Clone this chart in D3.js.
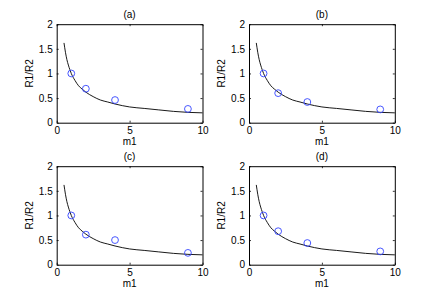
<!DOCTYPE html>
<html lang="en">
<head>
  <meta charset="UTF-8">
  <title>R1/R2 vs m1</title>
  <style>
    body { margin: 0; background: #fff; }
    svg { display: block; }
    text { font-family: "Liberation Sans", Arial, Helvetica, sans-serif; font-size: 10px; fill: #000; }
  </style>
</head>
<body>
  <script src="https://cdnjs.cloudflare.com/ajax/libs/d3/7.8.5/d3.min.js"></script>
  <svg></svg>
  <script>
    var width = 436, height = 300;

    // panel titles
    var titles = ['(a)', '(b)', '(c)', '(d)'];

    // measured points (same m1 for every panel)
    var m1 = [1, 2, 4, 9];
    var ratioA = [1, 0.69, 0.46, 0.28];
    var ratioB = [1, 0.6, 0.42, 0.27];
    var ratioC = [1, 0.61, 0.5, 0.24];
    var ratioD = [1, 0.68, 0.44, 0.27];
    var ratios = [ratioA, ratioB, ratioC, ratioD];

    // fitted curve
    var curveX = [0.5, 0.6, 0.7, 0.8, 0.9, 1, 1.25, 1.5, 1.75, 2, 2.5, 3, 3.5, 4, 5, 6, 7, 8, 9, 10];
    var curveY = [1.62, 1.43, 1.28, 1.17, 1.08, 1.0, 0.86, 0.75, 0.68, 0.62, 0.53, 0.46, 0.42, 0.38, 0.32, 0.29, 0.26, 0.23, 0.21, 0.2];

    // tick labels
    var xTicks = [0, 5, 10];
    var yTicks = [0, 0.5, 1, 1.5, 2];

    // panel boxes (left, top) in pixels
    var panelW = 145.8, panelH = 98.5;
    var lefts = [56.7, 249];
    var tops = [24.2, 166.2];

    var svg = d3.select('svg')
                .attr('width', width)
                .attr('height', height);

    var line = d3.line().curve(d3.curveMonotoneX);
    var fmt = d3.format('');

    titles.forEach(function(t, i) {
      var x0 = lefts[i % 2], y0 = tops[Math.floor(i / 2)];
      var g = svg.append('g').attr('transform', 'translate(' + x0 + ',' + y0 + ')');

      var xScale = d3.scaleLinear().domain([0, 10]).range([0, panelW]);
      var yScale = d3.scaleLinear().domain([0, 2]).range([panelH, 0]);

      // axes (MATLAB style: ticks inward, mirrored)
      var tl = 2;
      g.append('g').attr('transform', 'translate(0,' + panelH + ')')
        .call(d3.axisBottom(xScale).tickValues(xTicks).tickFormat(fmt).tickSizeInner(-tl).tickSizeOuter(0).tickPadding(4));
      g.append('g')
        .call(d3.axisLeft(yScale).tickValues(yTicks).tickFormat(fmt).tickSizeInner(-tl).tickSizeOuter(0).tickPadding(4));
      g.append('g')
        .call(d3.axisTop(xScale).tickValues(xTicks).tickSizeInner(-tl).tickSizeOuter(0).tickFormat(''));
      g.append('g').attr('transform', 'translate(' + panelW + ',0)')
        .call(d3.axisRight(yScale).tickValues(yTicks).tickSizeInner(-tl).tickSizeOuter(0).tickFormat(''));
      g.selectAll('.domain').attr('stroke', '#000').attr('stroke-width', 1);
      g.selectAll('.tick line').attr('stroke', '#000').attr('stroke-width', 0.8);
      g.selectAll('.tick text').style('font-size', '10px').attr('fill', '#000');

      // fitted curve
      g.append('path')
        .datum(curveX.map(function(x, k) { return [xScale(x), yScale(curveY[k])]; }))
        .attr('d', line)
        .attr('fill', 'none')
        .attr('stroke', '#000')
        .attr('stroke-width', 0.9);

      // measured points
      g.selectAll('circle.pt')
        .data(m1)
        .enter()
        .append('circle')
          .attr('class', 'pt')
          .attr('cx', function(d) { return xScale(d); })
          .attr('cy', function(d, k) { return yScale(ratios[i][k]); })
          .attr('r', 3.4)
          .attr('fill', 'none')
          .attr('stroke', '#3344ff')
          .attr('stroke-width', 0.9);

      // title and labels
      g.append('text')
        .attr('x', panelW / 2).attr('y', -6)
        .attr('text-anchor', 'middle')
        .text(t);
      g.append('text')
        .attr('x', panelW / 2).attr('y', panelH + 22)
        .attr('text-anchor', 'middle')
        .text('m1');
      g.append('text')
        .attr('transform', 'translate(-24,' + panelH / 2 + ') rotate(-90)')
        .attr('text-anchor', 'middle')
        .text('R1/R2');
    });
  </script>
</body>
</html>
